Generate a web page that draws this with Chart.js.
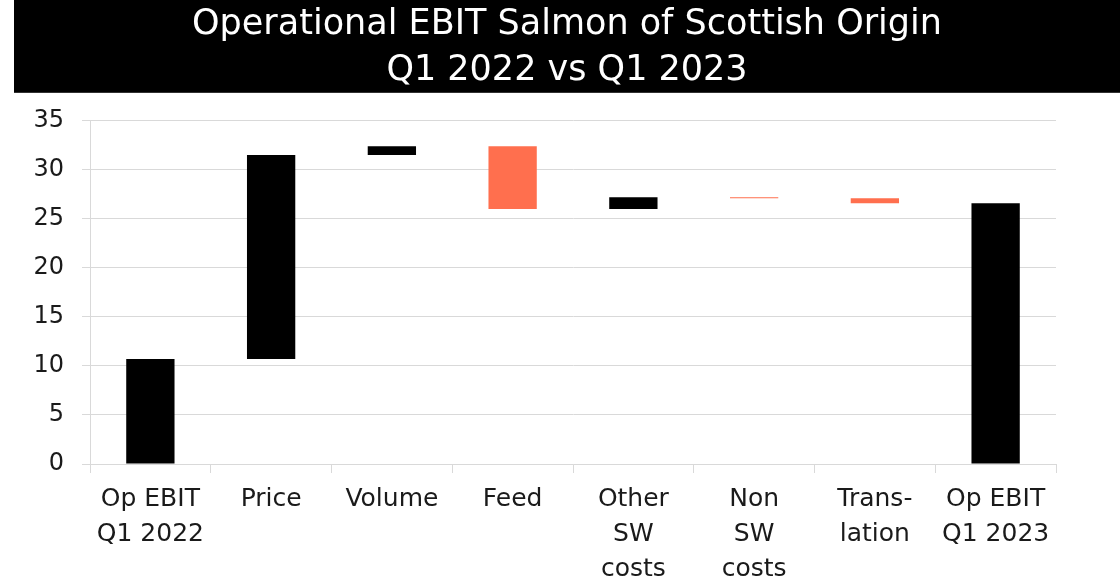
<!DOCTYPE html>
<html>
<head>
<meta charset="utf-8">
<script src="https://cdn.jsdelivr.net/npm/chart.js@4.4.0/dist/chart.umd.min.js"></script>
<style>
  html, body { margin: 0; padding: 0; background: #ffffff; }
  #wrap { width: 1120px; height: 580px; position: relative; }
</style>
</head>
<body>
<div id="wrap"><canvas id="ebitChart"></canvas></div>
<script>
// bridge categories (multi-line labels)
const categories = [
  ["Op EBIT", "Q1 2022"],
  ["Price"],
  ["Volume"],
  ["Feed"],
  ["Other", "SW", "costs"],
  ["Non", "SW", "costs"],
  ["Trans-", "lation"],
  ["Op EBIT", "Q1 2023"],
];
// floating bar start / end per category (MNOK)
const barStart = [0, 10.7, 31.5, 32.4, 26.0, 27.2, 27.1, 0];
const barEnd = [10.7, 31.5, 32.4, 26.0, 27.2, 27.1, 26.6, 26.6];
const yTicks = [0, 5, 10, 15, 20, 25, 30, 35];

const titleLines = ["Operational EBIT Salmon of Scottish Origin", "Q1 2022 vs Q1 2023"];

const BLACK = "#000000";
const ORANGE = "#FF6F4E";
const GRID = "#D9D9D9";
const TEXT = "#1a1a1a";
const FONT = "'DejaVu Sans', 'Liberation Sans', sans-serif";

const barData = categories.map((c, i) => [barStart[i], barEnd[i]]);
const barColors = barData.map(([s, e]) => (e < s ? ORANGE : BLACK));

// black band behind the title
const titleBand = {
  id: "titleBand",
  beforeDraw(chart) {
    const t = chart.titleBlock;
    if (!t) return;
    const ctx = chart.ctx;
    ctx.save();
    ctx.fillStyle = "#000000";
    ctx.fillRect(t.left, 0, chart.width - t.left, t.bottom - t.options.padding.bottom - 2);
    ctx.restore();
  },
};

new Chart(document.getElementById("ebitChart"), {
  type: "bar",
  data: {
    labels: categories,
    datasets: [
      {
        label: "EBIT bridge",
        data: barData,
        backgroundColor: barColors,
        borderWidth: 0,
        barPercentage: 0.4,
        categoryPercentage: 1.0,
      },
    ],
  },
  options: {
    responsive: true,
    maintainAspectRatio: false,
    animation: false,
    layout: { padding: { left: 14, right: 0, top: 0, bottom: 0 } },
    scales: {
      x: {
        grid: {
          display: true,
          drawOnChartArea: false,
          color: GRID,
          tickLength: 9,
          tickColor: GRID,
        },
        border: { color: GRID, width: 1 },
        ticks: {
          color: TEXT,
          font: { family: FONT, size: 25, lineHeight: 1.4 },
          padding: 9,
          maxRotation: 0,
          autoSkip: false,
        },
        afterFit(scale) {
          scale.height = 116;
        },
      },
      y: {
        min: 0,
        max: 35,
        afterBuildTicks(scale) {
          scale.ticks = yTicks.map((v) => ({ value: v }));
        },
        grid: {
          color: GRID,
          tickLength: 8,
          tickColor: GRID,
        },
        border: { color: GRID, width: 1 },
        ticks: {
          color: TEXT,
          font: { family: FONT, size: 24 },
          padding: 18,
        },
        afterFit(scale) {
          scale.width = 76;
        },
      },
      // empty right-hand spacer so the plot stops short of the edge
      spacer: {
        type: "linear",
        position: "right",
        display: true,
        grid: { display: false },
        border: { display: false },
        ticks: { display: false },
        afterFit(scale) {
          scale.width = 64;
        },
      },
    },
    plugins: {
      legend: { display: false },
      tooltip: { enabled: false },
      title: {
        display: true,
        text: titleLines,
        color: "#ffffff",
        font: { family: FONT, size: 35, weight: "normal", lineHeight: 1.34 },
        padding: { top: 1, bottom: 26 },
      },
    },
  },
  plugins: [titleBand],
});
</script>
</body>
</html>
